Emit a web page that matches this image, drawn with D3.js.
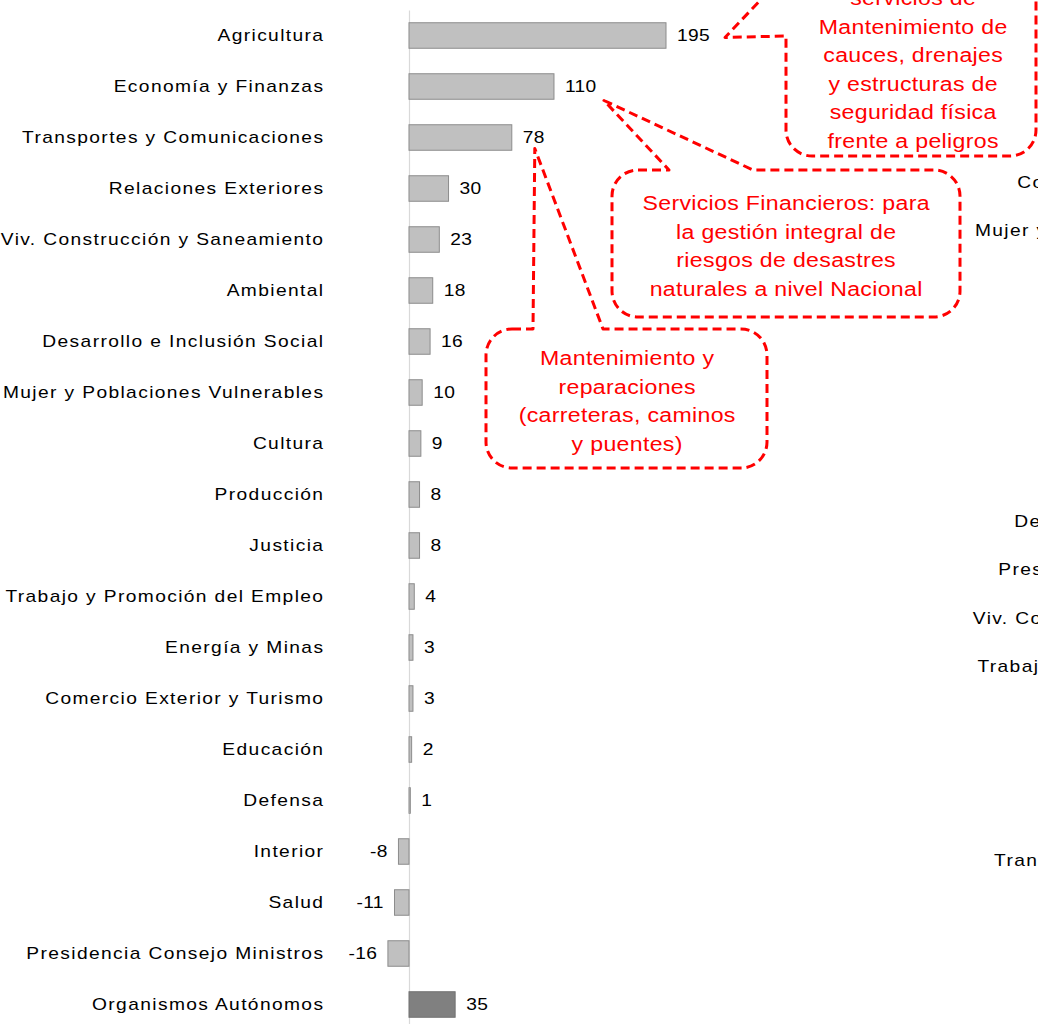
<!DOCTYPE html>
<html><head><meta charset="utf-8">
<script src="https://cdn.jsdelivr.net/npm/d3@7"></script>
<style>
html,body{margin:0;padding:0;background:#fff;overflow:hidden}
svg{display:block}
</style></head><body>
<svg id="c" width="1038" height="1024"></svg>
<script>
// ---- data ----
const categories = [
  "Agricultura","Economía y Finanzas","Transportes y Comunicaciones","Relaciones Exteriores",
  "Viv. Construcción y Saneamiento","Ambiental","Desarrollo e Inclusión Social",
  "Mujer y Poblaciones Vulnerables","Cultura","Producción","Justicia",
  "Trabajo y Promoción del Empleo","Energía y Minas","Comercio Exterior y Turismo",
  "Educación","Defensa","Interior","Salud","Presidencia Consejo Ministros","Organismos Autónomos"
];
const values = [195,110,78,30,23,18,16,10,9,8,8,4,3,3,2,1,-8,-11,-16,35];
const highlighted = ["Organismos Autónomos"];

// labels of the neighbouring (cut-off) chart on the right
const rightLabels = ["Comercio Exterior y Turismo","Mujer y Poblaciones Vulnerables",
  "Desarrollo e Inclusión Social","Presidencia Consejo Ministros",
  "Viv. Construcción y Saneamiento","Trabajo y Promoción del Empleo","Transportes y Comunicaciones"];
const rightRows = [3,4,10,11,12,13,17];

const callouts = [
  {target:"Agricultura", lines:["servicios de","Mantenimiento de","cauces, drenajes","y estructuras de","seguridad física","frente a peligros"]},
  {target:"Economía y Finanzas", lines:["Servicios Financieros: para","la gestión integral de","riesgos de desastres","naturales a nivel Nacional"]},
  {target:"Transportes y Comunicaciones", lines:["Mantenimiento y","reparaciones","(carreteras, caminos","y puentes)"]}
];

// ---- chart ----
const FONT = "'Liberation Sans', Arial, sans-serif";
const SX = 1.2, LS = 1.15, FS = 16, VFS = 16, VLS = 0.3;
const svg = d3.select("#c");
const data = categories.map((c,i)=>({cat:c, val:values[i]}));

const x = d3.scaleLinear().domain([0,195]).range([409,666]);
const y = d3.scaleBand().domain(categories).range([10,1030]).paddingInner(0.5).paddingOuter(0.25);

const axis = svg.append("g").attr("transform",`translate(${x(0)},0)`)
  .call(d3.axisLeft(y).tickSize(0).tickFormat(""));
axis.select(".domain").attr("stroke","#d9d9d9").attr("stroke-width",1.2);

// stretched text helper
function stretchedText(sel, fx, fy, anchor, size, ls){
  sel.attr("transform",(d,i)=>{
      const a = typeof anchor==="function"?anchor(d):anchor;
      const px = fx(d,i) + (a==="end"? ls*SX : 0);
      return `translate(${px},${fy(d,i)}) scale(${SX},1)`;})
    .attr("x",0).attr("y",0).attr("dy","0.36em")
    .attr("text-anchor",anchor)
    .attr("font-family",FONT).attr("font-size",size).attr("letter-spacing",ls).attr("fill","#000");
}

// category labels
svg.append("g").selectAll("text").data(data).join("text")
  .call(stretchedText, ()=>323, d=>y(d.cat)+y.bandwidth()/2, "end", FS, LS)
  .text(d=>d.cat);

// bars
svg.append("g").selectAll("rect").data(data).join("rect")
  .attr("x",d=>x(Math.min(0,d.val)))
  .attr("y",d=>y(d.cat))
  .attr("width",d=>Math.abs(x(d.val)-x(0)))
  .attr("height",y.bandwidth())
  .attr("fill",d=>highlighted.includes(d.cat)?"#808080":"#c0c0c0")
  .attr("stroke",d=>highlighted.includes(d.cat)?"#707070":"#8c8c8c")
  .attr("stroke-width",1);

// value labels
svg.append("g").selectAll("text").data(data).join("text")
  .call(stretchedText, d=>d.val>=0 ? x(d.val)+11 : x(d.val)-11,
        d=>y(d.cat)+y.bandwidth()/2, d=>d.val>=0?"start":"end", VFS, VLS)
  .text(d=>d.val);

// right neighbour chart labels (right-aligned, mostly outside the view)
const y2 = d3.scalePoint().domain(d3.range(20)).range([37,37+48.4*19]);
svg.append("g").selectAll("text").data(rightLabels).join("text")
  .call(stretchedText, ()=>1295, (d,i)=>y2(rightRows[i]), "end", FS, LS)
  .text(d=>d);

// ---- callouts ----
const yc = c => y(c)+y.bandwidth()/2;
function topPointerPath(b, tip, a1, a2){
  const r=b.r;
  return `M${b.x0+r},${b.y0} L${a1},${b.y0} L${tip[0]},${tip[1]} L${a2},${b.y0} L${b.x1-r},${b.y0}
   A${r},${r} 0 0 1 ${b.x1},${b.y0+r} L${b.x1},${b.y1-r} A${r},${r} 0 0 1 ${b.x1-r},${b.y1}
   L${b.x0+r},${b.y1} A${r},${r} 0 0 1 ${b.x0},${b.y1-r} L${b.x0},${b.y0+r} A${r},${r} 0 0 1 ${b.x0+r},${b.y0} Z`;
}
function leftPointerPath(b, tip, a1, a2){
  const r=b.r;
  return `M${b.x0+r},${b.y0} L${b.x1-r},${b.y0} A${r},${r} 0 0 1 ${b.x1},${b.y0+r}
   L${b.x1},${b.y1-r} A${r},${r} 0 0 1 ${b.x1-r},${b.y1} L${b.x0+r},${b.y1}
   A${r},${r} 0 0 1 ${b.x0},${b.y1-r} L${b.x0},${a2} L${tip[0]},${tip[1]} L${b.x0},${a1}
   L${b.x0},${b.y0+r} A${r},${r} 0 0 1 ${b.x0+r},${b.y0} Z`;
}
const CSX = 1.1, CLS = 0.3;
const cg = svg.append("g");
const specs = [
  {box:{x0:786,x1:1036,y0:-80,y1:156,r:26}, tip:[x(195)+59, yc(categories[0])+2], kind:"left", a1:-27, a2:36, base:5, cx:913},
  {box:{x0:612,x1:960,y0:170,y1:317,r:26}, tip:[x(110)+50, yc(categories[1])+14], kind:"top", a1:669, a2:753, base:210, cx:786},
  {box:{x0:486,x1:767,y0:329,y1:468,r:26}, tip:[x(78)+23, yc(categories[2])+11], kind:"top", a1:533, a2:603, base:365, cx:627}
];
specs.forEach((s,i)=>{
  const p = s.kind==="top" ? topPointerPath(s.box,s.tip,s.a1,s.a2) : leftPointerPath(s.box,s.tip,s.a1,s.a2);
  cg.append("path").attr("d",p).attr("fill","#fff").attr("stroke","#ff0000")
    .attr("stroke-width",3).attr("stroke-dasharray","9,5").attr("stroke-linejoin","round");
  cg.append("g").selectAll("text").data(callouts[i].lines).join("text")
    .attr("transform",(d,j)=>`translate(${s.cx + CLS*CSX/2},${s.base+j*28.5}) scale(${CSX},1)`)
    .attr("text-anchor","middle").attr("font-family",FONT).attr("font-size",21)
    .attr("letter-spacing",CLS).attr("fill","#ff0000").text(d=>d);
});
</script>
</body></html>
